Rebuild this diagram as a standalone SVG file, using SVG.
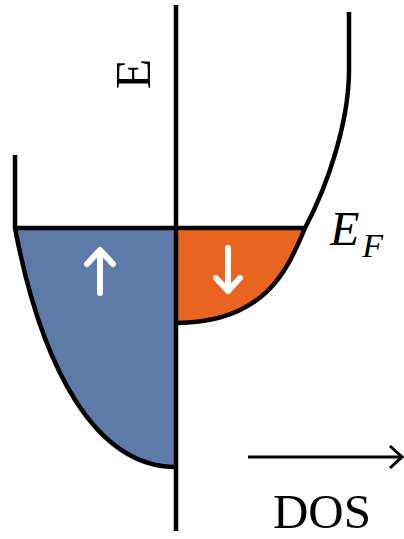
<svg xmlns="http://www.w3.org/2000/svg" width="404" height="539" viewBox="0 0 404 539">
<style>
.ln{fill:none;stroke:#000;stroke-width:4.5;stroke-linecap:butt;stroke-linejoin:round}
.spin{fill:none;stroke:#fff;stroke-width:6;stroke-linecap:round;stroke-linejoin:round}
.serif{font-family:"Liberation Serif","DejaVu Serif",serif;fill:#000}
</style>
<defs>
<marker id="chev" viewBox="0 0 16 26" refX="14" refY="13" markerWidth="16" markerHeight="26" markerUnits="userSpaceOnUse" orient="auto">
<path d="M2,2 L14,13 L2,24" fill="none" stroke="#000" stroke-width="3"/>
</marker>
</defs>
<rect width="404" height="539" fill="#fff"/>
<g id="spin-up-band">
<path d="M15,228 C42,370 96,467 176,467 L176,228 Z" fill="#5d7aa8"/>
<path class="ln" d="M15,155 L15,228 C42,370 96,467 176,467"/>
<path class="spin" d="M100,293 L100,251 M87,264 L100,250 L113,264"/>
</g>
<g id="spin-down-band">
<path d="M176,228 L305,228 C290,262 270,323 176,323 Z" fill="#e8641f"/>
<path class="ln" d="M176,323 C270,323 290,262 305,228 C329,183 349,120 349,70 L349,12"/>
<path class="spin" d="M228,248 L228,290 M216,278 L228,291 L240,278"/>
</g>
<g id="fermi-level">
<line class="ln" x1="15" y1="228" x2="305" y2="228"/>
<text class="serif" x="330" y="245" font-size="48" font-style="italic">E<tspan font-size="34" dx="3" dy="12">F</tspan></text>
</g>
<g id="axes">
<line class="ln" x1="176" y1="5" x2="176" y2="531"/>
<text class="serif" transform="translate(150,74) rotate(-90)" text-anchor="middle" font-size="50">E</text>
<line x1="248" y1="457" x2="402" y2="457" stroke="#000" stroke-width="3" marker-end="url(#chev)"/>
<text class="serif" x="322" y="528" text-anchor="middle" font-size="49">DOS</text>
</g>
</svg>
